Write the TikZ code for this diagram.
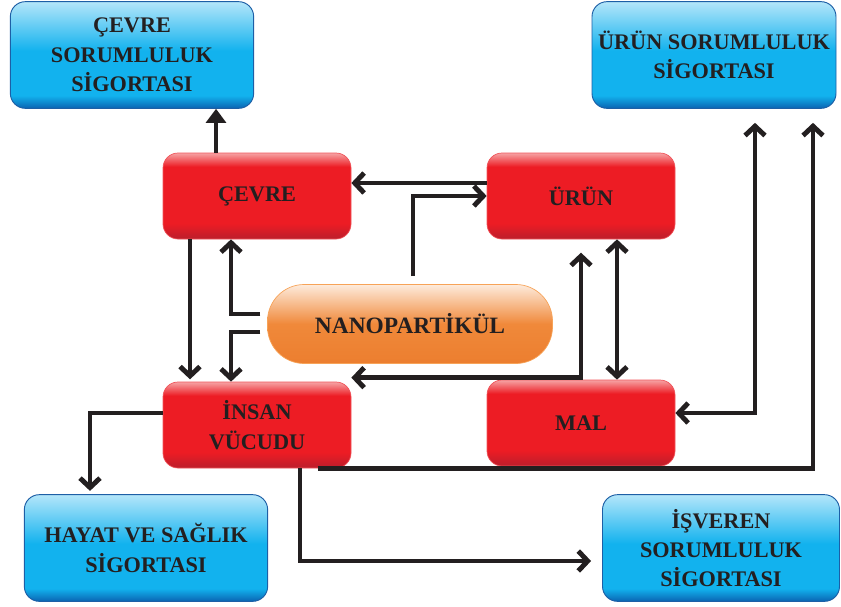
\documentclass[tikz,border=0pt]{standalone}
\usepackage{fontspec}
\setmainfont{Liberation Serif}
\usetikzlibrary{arrows.meta,positioning}
\definecolor{ink}    {HTML}{231F20}
\definecolor{sigtop} {HTML}{B4E6FA}
\definecolor{sigmid} {HTML}{12B2EE}
\definecolor{sigbot} {HTML}{0A64B2}
\definecolor{sigedge}{HTML}{1D5FA6}
\definecolor{risktop}{HTML}{F6A3A4}
\definecolor{riskmid}{HTML}{ED1C24}
\definecolor{riskbot}{HTML}{BB1E2C}
\definecolor{riskedge}{HTML}{F0555B}
\definecolor{nanotop}{HTML}{FDEBDC}
\definecolor{nanomid}{HTML}{F0893A}
\definecolor{nanobot}{HTML}{EC7E2F}
\definecolor{nanoedge}{HTML}{F7A358}
\pgfdeclareverticalshading{sigshade}{100bp}{color(0bp)=(sigbot); color(25bp)=(sigbot);
  color(31bp)=(sigmid); color(52bp)=(sigmid); color(75bp)=(sigtop); color(100bp)=(sigtop)}
\pgfdeclareverticalshading{riskshade}{100bp}{color(0bp)=(riskbot); color(25bp)=(riskbot);
  color(34bp)=(riskmid); color(67bp)=(riskmid); color(75bp)=(risktop); color(100bp)=(risktop)}
\pgfdeclareverticalshading{nanoshade}{100bp}{color(0bp)=(nanobot); color(25bp)=(nanobot);
  color(50bp)=(nanomid); color(75bp)=(nanotop); color(100bp)=(nanotop)}
\tikzset{
  sigbox/.style  ={draw=sigedge, line width=0.8pt, shading=sigshade,
                   rounded corners=0.45cm, minimum width=7.3cm, minimum height=3.2cm,
                   align=center, text=ink, font=\bfseries\fontsize{19}{25}\selectfont},
  riskbox/.style ={draw=riskedge, line width=0.6pt, shading=riskshade,
                   rounded corners=0.45cm, minimum width=5.64cm, minimum height=2.58cm,
                   align=center, text=ink, font=\bfseries\fontsize{19}{25}\selectfont},
  nanobox/.style ={draw=nanoedge, line width=0.6pt, shading=nanoshade,
                   rounded corners=1.1cm, minimum width=8.55cm, minimum height=2.37cm,
                   align=center, text=ink, font=\bfseries\fontsize{20}{25}\selectfont},
  linkarr/.style ={draw=ink, line width=4.2pt, -{Straight Barb[length=8pt,width=17pt]}},
  dblarr/.style  ={draw=ink, line width=4.2pt,
                   {Straight Barb[length=8pt,width=17pt]}-{Straight Barb[length=8pt,width=17pt]}},
  triarr/.style  ={draw=ink, line width=4.2pt, -{Triangle[length=12pt,width=17pt]}},
}
\begin{document}
\begin{tikzpicture}
  \useasboundingbox (0,0) rectangle (25.23,-18.18);

  \node[sigbox]  (cevresig) at (3.96,-1.65)   {ÇEVRE\\SORUMLULUK\\SİGORTASI};
  \node[sigbox,minimum width=7.32cm] (urunsig) at (21.42,-1.65) {ÜRÜN SORUMLULUK\\SİGORTASI};
  \node[riskbox] (cevre)    at (7.71,-5.88)   {ÇEVRE};
  \node[riskbox] (urun)     at (17.43,-5.88)  {ÜRÜN};
  \node[nanobox] (nano)     at (12.30,-9.72)  {NANOPARTİKÜL};
  \node[riskbox] (insan)    at (7.71,-12.75)  {İNSAN\\VÜCUDU};
  \node[riskbox] (mal)      at (17.43,-12.69) {MAL};
  \node[sigbox]  (hayat)    at (4.38,-16.44)  {HAYAT VE SAĞLIK\\SİGORTASI};
  \node[sigbox,minimum width=7.11cm] (isveren) at (21.63,-16.44) {İŞVEREN\\SORUMLULUK\\SİGORTASI};

  % upper row
  \draw[triarr] ([xshift=-1.23cm]cevre.north) -- ([xshift=-1.23cm]cevre.north |- cevresig.south);
  \draw[linkarr] ([yshift=0.39cm]urun.west) -- ([yshift=0.39cm]cevre.east);
  \draw[linkarr] ([xshift=0.09cm,yshift=0.24cm]nano.north) |- (urun.west);

  % nanoparticle to the left
  \draw[linkarr,shorten >=2pt] ([xshift=-2.01cm]cevre.south) -- ([xshift=-2.01cm]insan.north);
  \draw[linkarr] ([xshift=-0.2cm,yshift=0.3cm]nano.west) -| ([xshift=-0.78cm]cevre.south);
  \draw[linkarr] ([xshift=-0.2cm,yshift=-0.24cm]nano.west) -| ([xshift=-0.78cm]insan.north);

  % right side
  \draw[dblarr] ([xshift=1.08cm]urun.south) -- ([xshift=1.08cm]mal.north);
  \draw[dblarr,shorten >=0.4cm] ([yshift=0.12cm]insan.north east) -| (urun.south);
  \draw[dblarr,shorten >=0.42cm] ([yshift=0.3cm]mal.east) -| ([xshift=1.23cm]urunsig.south);
  \draw[linkarr,shorten >=0.42cm] ([xshift=1.83cm]insan.south) -| ([xshift=2.97cm]urunsig.south);

  % lower row
  \draw[linkarr,shorten >=0.33cm] ([xshift=1.29cm]insan.south) |- ([yshift=-0.39cm]isveren.west);
  \draw[linkarr,shorten >=0.1cm] ([yshift=0.36cm]insan.west) -| ([xshift=-1.68cm]hayat.north);
\end{tikzpicture}
\end{document}
